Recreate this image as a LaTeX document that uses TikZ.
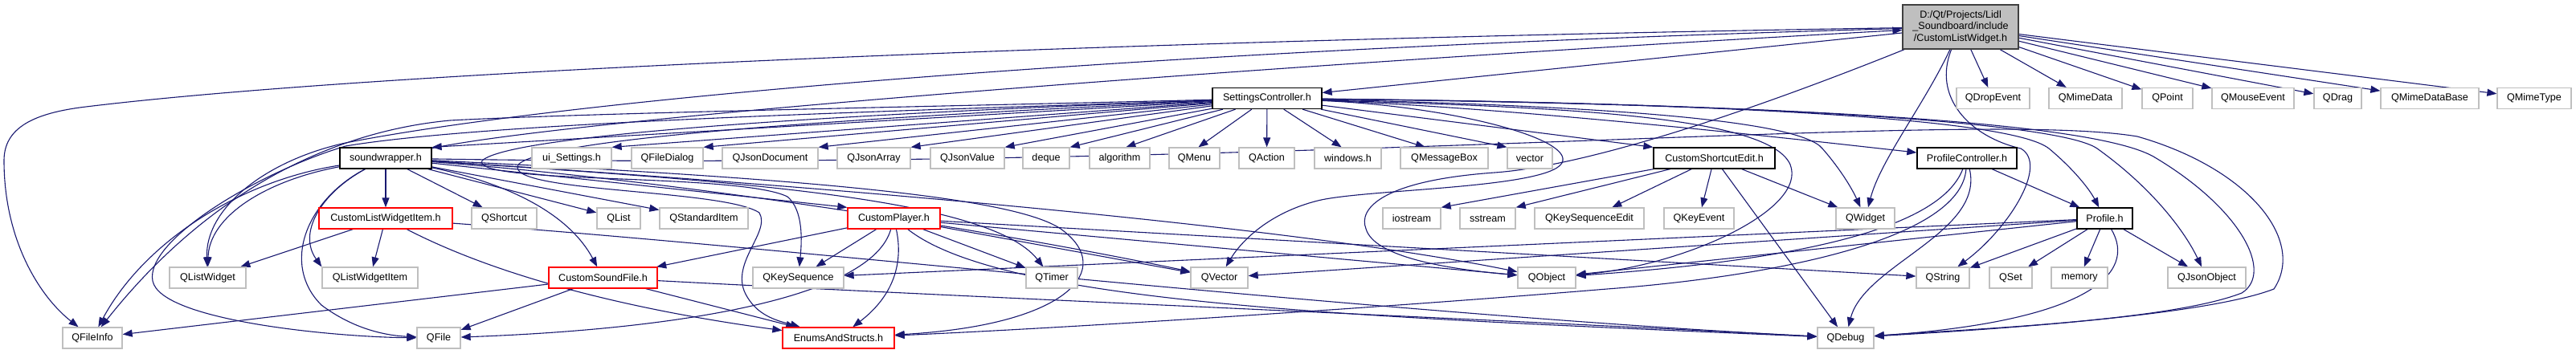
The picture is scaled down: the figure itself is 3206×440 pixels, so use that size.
\documentclass[tikz,border=0pt]{standalone}
\usepackage{fontspec}
\setmainfont{Liberation Sans}
\usetikzlibrary{arrows.meta}
\usetikzlibrary{backgrounds}
\definecolor{edgeblue}{HTML}{191970}
\definecolor{boxgray}{HTML}{BFBFBF}
\definecolor{rootgray}{HTML}{BFBFBF}

\begin{document}
\begin{tikzpicture}[x=1pt,y=-1pt,
  box/.style={draw=boxgray,line width=1.3pt,fill=white,minimum height=26pt,inner sep=0pt,
    font=\fontsize{12.6}{14.5}\selectfont},
  hdr/.style={box,draw=black},
  redhdr/.style={box,draw=red},
  root/.style={box,draw=black!75,fill=rootgray,align=center},
  dep/.style={draw=edgeblue,line width=1.1pt,-{Triangle[length=12pt,width=9pt]}}]
\useasboundingbox (0,0) rectangle (3206,440);

% row 0
\node[root,minimum width=144pt,minimum height=55pt] (main) at (2440,33.5) {D:/Qt/Projects/Lidl\\\_Soundboard/include\\/CustomListWidget.h};

% row 1
\node[hdr,minimum width=136pt] (sc) at (1577,122.5) {SettingsController.h};
\node[box,minimum width=91pt] (qdropevent) at (2480.5,122.5) {QDropEvent};
\node[box,minimum width=91pt] (qmimedata) at (2595.5,122.5) {QMimeData};
\node[box,minimum width=63pt] (qpoint) at (2697.5,122.5) {QPoint};
\node[box,minimum width=102pt] (qmouseevent) at (2804,122.5) {QMouseEvent};
\node[box,minimum width=59pt] (qdrag) at (2909.5,122.5) {QDrag};
\node[box,minimum width=122pt] (qmimedatabase) at (3024,122.5) {QMimeDataBase};
\node[box,minimum width=92pt] (qmimetype) at (3154,122.5) {QMimeType};

% row 2
\node[hdr,minimum width=114pt] (sw) at (480,197) {soundwrapper.h};
\node[box,minimum width=99pt] (uisettings) at (711.5,197) {ui\_Settings.h};
\node[box,minimum width=89pt] (qfiledialog) at (830.5,197) {QFileDialog};
\node[box,minimum width=119pt] (qjsondocument) at (958.5,197) {QJsonDocument};
\node[box,minimum width=91pt] (qjsonarray) at (1087.5,197) {QJsonArray};
\node[box,minimum width=92pt] (qjsonvalue) at (1204,197) {QJsonValue};
\node[box,minimum width=58pt] (deque) at (1302,197) {deque};
\node[box,minimum width=75pt] (algorithm) at (1393.5,197) {algorithm};
\node[box,minimum width=63pt] (qmenu) at (1486.5,197) {QMenu};
\node[box,minimum width=69pt] (qaction) at (1576.5,197) {QAction};
\node[box,minimum width=83pt] (windowsh) at (1677.5,197) {windows.h};
\node[box,minimum width=109pt] (qmessagebox) at (1797.5,197) {QMessageBox};
\node[box,minimum width=56pt] (vector) at (1904,197) {vector};
\node[hdr,minimum width=151pt] (cse) at (2133.5,197) {CustomShortcutEdit.h};
\node[hdr,minimum width=124pt] (pc) at (2448,197) {ProfileController.h};

% row 3
\node[redhdr,minimum width=166pt] (clwi) at (480,272) {CustomListWidgetItem.h};
\node[box,minimum width=81pt] (qshortcut) at (627.5,272) {QShortcut};
\node[box,minimum width=54pt] (qlist) at (770,272) {QList};
\node[box,minimum width=110pt] (qstandarditem) at (876,272) {QStandardItem};
\node[redhdr,minimum width=115pt] (cp) at (1112.5,272) {CustomPlayer.h};
\node[box,minimum width=72pt] (iostream) at (1757,272) {iostream};
\node[box,minimum width=69pt] (sstream) at (1851.5,272) {sstream};
\node[box,minimum width=136pt] (qkeysequenceedit) at (1978,272) {QKeySequenceEdit};
\node[box,minimum width=87pt] (qkeyevent) at (2114.5,272) {QKeyEvent};
\node[box,minimum width=73pt] (qwidget) at (2321.5,272) {QWidget};
\node[hdr,minimum width=69pt] (profile) at (2619.5,272) {Profile.h};

% row 4
\node[box,minimum width=95pt] (qlistwidget) at (258.5,346) {QListWidget};
\node[box,minimum width=119pt] (qlistwidgetitem) at (460.5,346) {QListWidgetItem};
\node[redhdr,minimum width=135pt] (csf) at (750.5,346) {CustomSoundFile.h};
\node[box,minimum width=113pt] (qkeysequence) at (993.5,346) {QKeySequence};
\node[box,minimum width=64pt] (qtimer) at (1309,346) {QTimer};
\node[box,minimum width=71pt] (qvector) at (1517.5,346) {QVector};
\node[box,minimum width=72pt] (qobject) at (1925,346) {QObject};
\node[box,minimum width=66pt] (qstring) at (2418,346) {QString};
\node[box,minimum width=53pt] (qset) at (2502.5,346) {QSet};
\node[box,minimum width=70pt] (memory) at (2588,346) {memory};
\node[box,minimum width=97pt] (qjsonobject) at (2746.5,346) {QJsonObject};

% row 5
\node[box,minimum width=74pt] (qfileinfo) at (115,421) {QFileInfo};
\node[box,minimum width=54pt] (qfile) at (546,421) {QFile};
\node[redhdr,minimum width=139pt] (enums) at (1043.5,421) {EnumsAndStructs.h};
\node[box,minimum width=70pt] (qdebug) at (2297,421) {QDebug};

\begin{scope}[on background layer]
% CustomListWidget.h
\draw[dep] (main) -- (qdropevent);
\draw[dep] (main) -- (qmimedata);
\draw[dep] (main) -- (qpoint);
\draw[dep] (main) -- (qmouseevent);
\draw[dep] (main) -- (qdrag);
\draw[dep] (main) -- (qmimedatabase);
\draw[dep] (main) -- (qmimetype);
\draw[dep] (main) -- (sc);
\draw[dep] (main) .. controls (2395,130) and (2340,200) .. (qwidget);
\draw[dep] (main) .. controls (2250,110) and (2000,205) .. (1860,215) .. controls (1720,225) and (1690,260) .. (1700,285) .. controls (1710,320) and (1800,335) .. (qobject);
\draw[dep] (main) .. controls (2405,120) and (2450,170) .. (2515,185) .. controls (2550,205) and (2500,285) .. (qstring);
\draw[dep] (main) .. controls (1500,48) and (500,85) .. (107,133) .. controls (40,141) and (5,160) .. (5,200) .. controls (5,300) and (50,370) .. (qfileinfo);
\draw[dep] (main) .. controls (1400,62) and (700,125) .. (430,178) .. controls (330,200) and (255,260) .. (qlistwidget);
\draw[dep] (sw) .. controls (700,150) and (1500,85) .. (main);

% SettingsController.h
\draw[dep] (sc) -- (sw.north east);
\draw[dep] (sc) -- (uisettings.north east);
\draw[dep] (sc) -- (qfiledialog.north east);
\draw[dep] (sc) -- (qjsondocument.north east);
\draw[dep] (sc) -- (qjsonarray.north east);
\draw[dep] (sc) -- (qjsonvalue.north east);
\draw[dep] (sc) -- (deque.north east);
\draw[dep] (sc) -- (algorithm.60);
\draw[dep] (sc) -- (qmenu.70);
\draw[dep] (sc) -- (qaction);
\draw[dep] (sc) -- (windowsh.120);
\draw[dep] (sc) -- (qmessagebox.150);
\draw[dep] (sc) -- (vector.north west);
\draw[dep] (sc) -- (cse.north west);
\draw[dep] (sc) .. controls (1900,135) and (2250,175) .. (pc);
\draw[dep] (sc) .. controls (2100,128) and (2500,145) .. (2550,185) .. controls (2580,210) and (2600,235) .. (profile);
\draw[dep] (sc) .. controls (2150,128) and (2560,150) .. (2610,185) .. controls (2680,235) and (2720,290) .. (qjsonobject);
\draw[dep] (sc) .. controls (2200,130) and (2600,150) .. (2680,195) .. controls (2790,260) and (2830,340) .. (2790,365) .. controls (2700,400) and (2450,410) .. (qdebug);
\draw[dep] (sc) .. controls (2000,132) and (2240,150) .. (2268,185) .. controls (2290,210) and (2305,235) .. (qwidget);
\draw[dep] (sc) .. controls (1900,133) and (2200,140) .. (2228,205) .. controls (2250,260) and (2100,330) .. (qobject);
\draw[dep] (sc) .. controls (1800,132) and (1950,170) .. (1945,200) .. controls (1940,235) and (1700,235) .. (1640,250) .. controls (1580,265) and (1545,300) .. (qvector);
\draw[dep] (sc) .. controls (1100,140) and (640,165) .. (600,200) .. controls (585,230) and (920,215) .. (980,245) .. controls (1000,262) and (998,300) .. (qkeysequence);
\draw[dep] (sc) .. controls (1100,145) and (680,170) .. (645,205) .. controls (625,240) and (900,235) .. (945,265) .. controls (960,290) and (905,330) .. (930,370) .. controls (945,395) and (970,400) .. (enums);
\draw[dep] (sc) .. controls (1200,132) and (750,140) .. (560,150) .. controls (400,165) and (250,250) .. (qfileinfo);
\draw[dep] (sc) .. controls (1200,136) and (620,150) .. (430,182) .. controls (320,215) and (180,300) .. (190,350) .. controls (200,400) and (420,420) .. (qfile);

% soundwrapper.h
\draw[dep] (sw) -- (clwi);
\draw[dep] (sw) -- (qshortcut);
\draw[dep] (sw) -- (qlist);
\draw[dep] (sw) -- (qstandarditem);
\draw[dep] (sw) .. controls (640,230) and (710,270) .. (csf);
\draw[dep] (sw) -- (cp.north west);
\draw[dep] (sw) .. controls (900,225) and (1230,245) .. (qtimer);
\draw[dep] (sw) .. controls (1000,222) and (1260,245) .. (1320,285) .. controls (1390,335) and (1330,405) .. (enums);
\draw[dep] (sw) .. controls (900,230) and (1300,300) .. (qvector);
\draw[dep] (sw) .. controls (1000,230) and (1600,280) .. (qobject);
\draw[dep] (sw) .. controls (1600,215) and (2450,135) .. (2660,170) .. controls (2800,210) and (2870,300) .. (2830,360) .. controls (2740,395) and (2450,412) .. (qdebug);
\draw[dep] (sw) .. controls (400,240) and (370,290) .. (qlistwidgetitem.north west);
\draw[dep] (sw) .. controls (380,250) and (350,330) .. (400,380) .. controls (440,410) and (480,418) .. (qfile);
\draw[dep] (sw) .. controls (330,225) and (260,270) .. (qlistwidget);
\draw[dep] (sw) .. controls (300,225) and (180,300) .. (qfileinfo);

% CustomListWidgetItem.h
\draw[dep] (clwi) -- (qlistwidget);
\draw[dep] (clwi) -- (qlistwidgetitem);
\draw[dep] (clwi) .. controls (650,360) and (850,395) .. (enums);
\draw[dep] (clwi) .. controls (1000,310) and (1700,390) .. (qdebug);

% CustomSoundFile.h
\draw[dep] (csf) -- (qfileinfo);
\draw[dep] (csf) -- (qfile);
\draw[dep] (csf) -- (enums);
\draw[dep] (csf) .. controls (1200,370) and (1800,395) .. (qdebug);

% CustomPlayer.h
\draw[dep] (cp) -- (csf);
\draw[dep] (cp) -- (qkeysequence);
\draw[dep] (cp) .. controls (1085,370) and (850,410) .. (qfile);
\draw[dep] (cp) .. controls (1125,330) and (1110,370) .. (enums);
\draw[dep] (cp) -- (qtimer);
\draw[dep] (cp) -- (qvector);
\draw[dep] (cp) -- (qobject);
\draw[dep] (cp) .. controls (1250,380) and (1700,395) .. (qdebug);
\draw[dep] (cp) -- (qstring);

% CustomShortcutEdit.h
\draw[dep] (cse) -- (iostream.north east);
\draw[dep] (cse) -- (sstream.north east);
\draw[dep] (cse) -- (qkeysequenceedit);
\draw[dep] (cse) -- (qkeyevent);
\draw[dep] (cse) -- (qwidget);
\draw[dep] (cse) -- (qdebug);

% ProfileController.h
\draw[dep] (pc) -- (profile);
\draw[dep] (pc) .. controls (2420,270) and (2300,320) .. (qobject);
\draw[dep] (pc) .. controls (2440,300) and (2200,345) .. (2000,360) .. controls (1700,385) and (1300,410) .. (enums);
\draw[dep] (pc) .. controls (2470,290) and (2320,330) .. (qdebug);

% Profile.h
\draw[dep] (profile) -- (qstring);
\draw[dep] (profile) -- (qset);
\draw[dep] (profile) -- (memory);
\draw[dep] (profile) -- (qjsonobject);
\draw[dep] (profile) .. controls (2660,340) and (2600,400) .. (qdebug);
\draw[dep] (profile) -- (qobject);
\draw[dep] (profile) -- (qvector);
\draw[dep] (profile) -- (qkeysequence);
\end{scope}
\end{tikzpicture}
\end{document}
